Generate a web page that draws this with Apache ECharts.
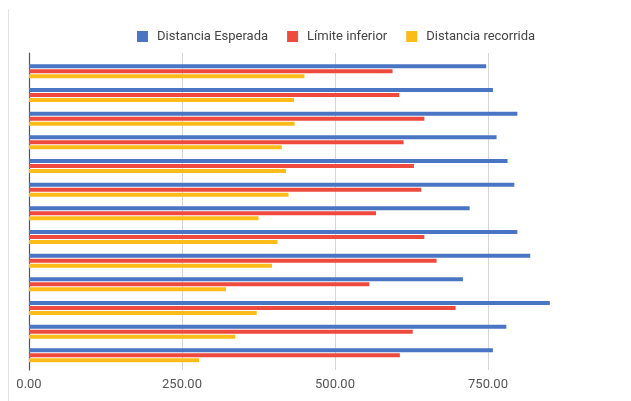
<!DOCTYPE html>
<html>
<head>
<meta charset="utf-8">
<script src="https://cdn.jsdelivr.net/npm/echarts@6/dist/echarts.min.js"></script>
<style>
  html, body { margin: 0; padding: 0; background: #fff; }
  #c { position: absolute; left: 0; top: 0; width: 631px; height: 401px; }
  #edge { position: absolute; left: 8px; top: 9px; width: 1px; height: 392px; background: #e3e3e3; }
</style>
</head>
<body>
<div id="edge"></div>
<div id="c"></div>
<script>
const categories = ['1','2','3','4','5','6','7','8','9','10','11','12','13'];
const distanciaEsperada = [747, 758, 798, 764, 782, 793, 720, 798, 819, 709, 851, 780, 758];
const limiteInferior    = [594, 605, 646, 612, 629, 641, 567, 646, 666, 556, 697, 627, 606];
const distanciaRecorrida = [450, 433, 434, 413, 420, 424, 375, 406, 397, 322, 372, 337, 278];
const xTicks = [0, 250, 500, 750, 1000];
const seriesNames = ['Distancia Esperada', 'Límite inferior', 'Distancia recorrida'];

const chart = echarts.init(document.getElementById('c'), null, { renderer: 'canvas' });
const font = 'Roboto, Arial, sans-serif';
const colors = ['#4a74c4', '#ee4a3e', '#fbbc1a'];
const valueAxisBase = {
  type: 'value',
  min: xTicks[0],
  max: xTicks[xTicks.length - 1],
  interval: xTicks[1] - xTicks[0]
};
chart.setOption({
  animation: false,
  color: colors,
  textStyle: { fontFamily: font },
  legend: {
    data: seriesNames,
    left: 132,
    top: 25,
    icon: 'rect',
    itemWidth: 11,
    itemHeight: 11,
    itemGap: 19,
    textStyle: { fontFamily: font, fontSize: 13, color: '#444', padding: [0, 0, 0, 4] }
  },
  grid: [
    { left: 29, width: 612, top: 53, height: 317, outerBoundsMode: 'none', containLabel: false },
    { left: 29, width: 612, top: 59.5, height: 307.7, outerBoundsMode: 'none', containLabel: false }
  ],
  xAxis: [
    Object.assign({}, valueAxisBase, {
      gridIndex: 0,
      axisLine: { show: false },
      axisTick: { show: false },
      axisLabel: {
        color: '#555', fontSize: 13, fontFamily: font, margin: 8,
        showMaxLabel: false,
        formatter: v => v.toFixed(2)
      },
      splitLine: { show: true, lineStyle: { color: '#d6d6d6', width: 1 } }
    }),
    Object.assign({}, valueAxisBase, { gridIndex: 1, show: false, splitLine: { show: false } })
  ],
  yAxis: [
    {
      gridIndex: 0, type: 'category', data: categories, inverse: true,
      axisLine: { show: true, lineStyle: { color: '#555', width: 1.2 } },
      axisTick: { show: false },
      axisLabel: { show: false },
      splitLine: { show: false }
    },
    { gridIndex: 1, type: 'category', data: categories, inverse: true, show: false }
  ],
  series: [
    { name: seriesNames[0], type: 'bar', xAxisIndex: 1, yAxisIndex: 1, data: distanciaEsperada, barWidth: 4, barGap: '25%' },
    { name: seriesNames[1], type: 'bar', xAxisIndex: 1, yAxisIndex: 1, data: limiteInferior, barWidth: 4, barGap: '25%' },
    { name: seriesNames[2], type: 'bar', xAxisIndex: 1, yAxisIndex: 1, data: distanciaRecorrida, barWidth: 4, barGap: '25%' }
  ]
});
</script>
</body>
</html>
